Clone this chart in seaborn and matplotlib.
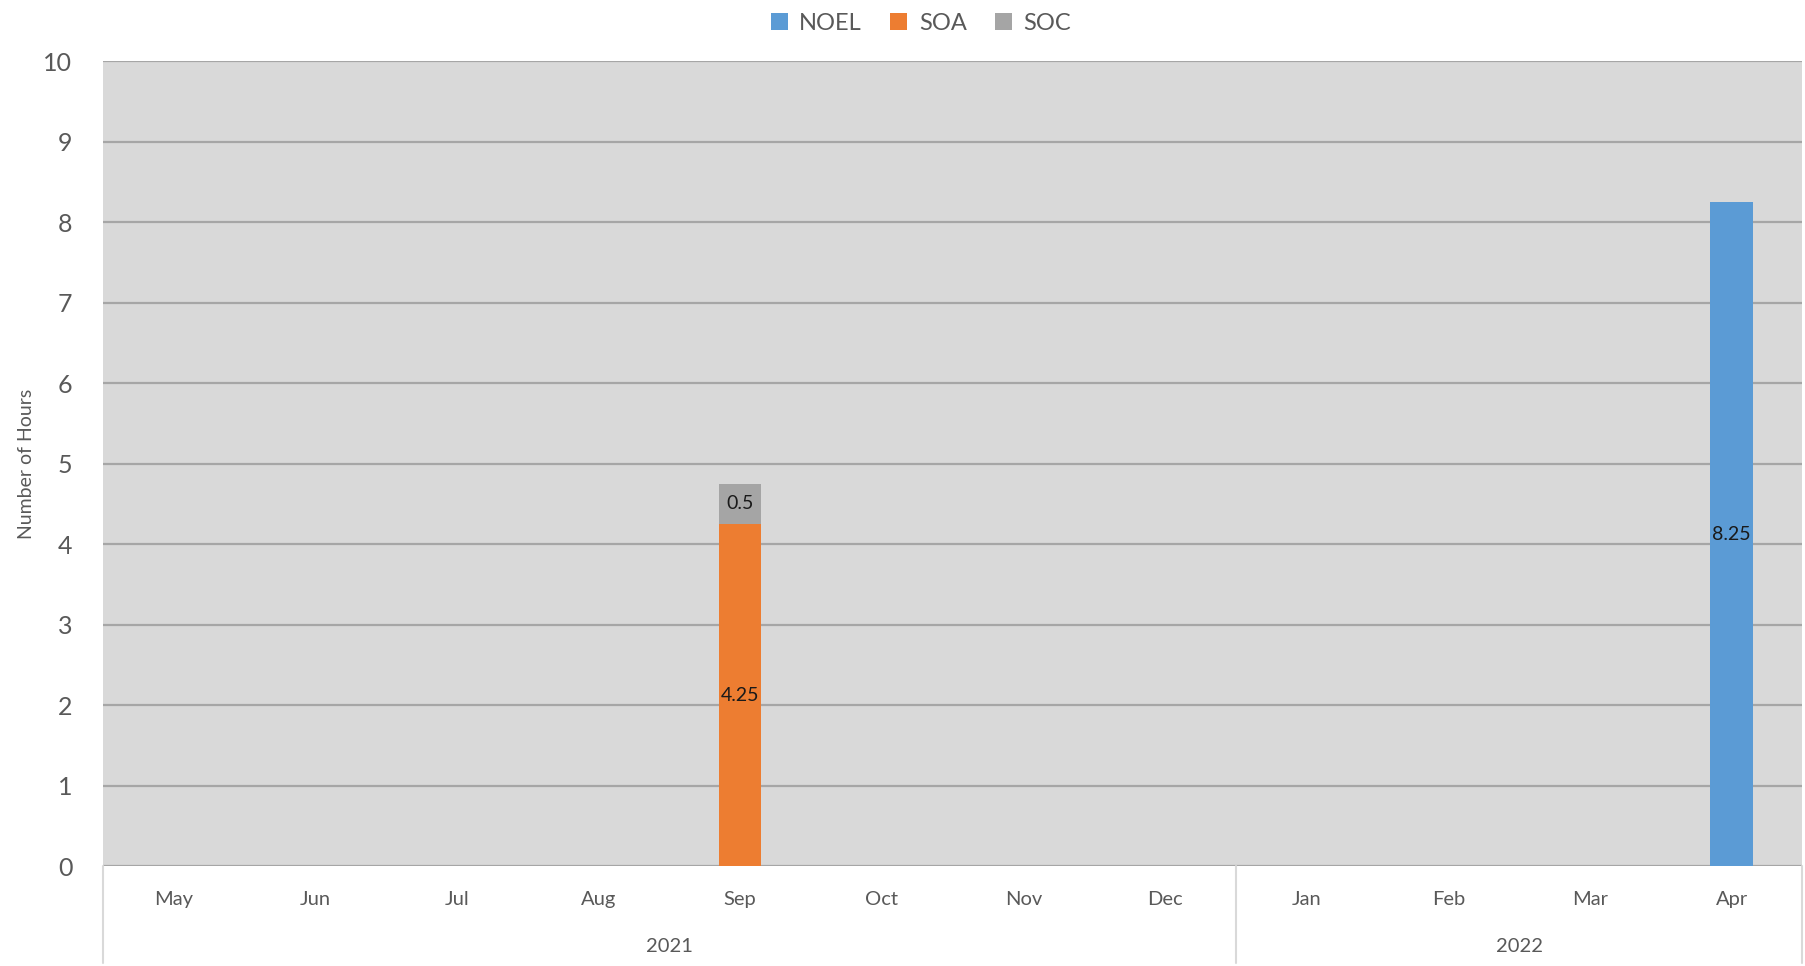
import numpy as np
import pandas as pd
import matplotlib.pyplot as plt
import seaborn as sns

months = ['May', 'Jun', 'Jul', 'Aug', 'Sep', 'Oct', 'Nov', 'Dec', 'Jan', 'Feb', 'Mar', 'Apr']
years = ['2021'] * 8 + ['2022'] * 4
noel = [0, 0, 0, 0, 0, 0, 0, 0, 0, 0, 0, 8.25]
soa = [0, 0, 0, 0, 4.25, 0, 0, 0, 0, 0, 0, 0]
soc = [0, 0, 0, 0, 0.5, 0, 0, 0, 0, 0, 0, 0]

df = pd.DataFrame({'month': months, 'year': years, 'NOEL': noel, 'SOA': soa, 'SOC': soc})
df['NOEL_SOA'] = df['NOEL'] + df['SOA']
df['total'] = df['NOEL_SOA'] + df['SOC']

sns.set_style('white')
plt.rcParams['font.family'] = ['Lato', 'DejaVu Sans']
txt = '#595959'
colors = {'NOEL': '#5B9BD5', 'SOA': '#ED7D31', 'SOC': '#A5A5A5'}

fig = plt.figure(figsize=(18.06, 9.66), dpi=100)
ax = fig.add_axes([0.057, 0.1035, 0.941, 0.833])
ax.set_facecolor('#D9D9D9')

# stacked bars: draw cumulative sums from the top down
sns.barplot(data=df, x='month', y='total', order=months, color=colors['SOC'],
            width=0.3, saturation=1, errorbar=None, ax=ax, label='SOC',
            linewidth=0, zorder=3)
sns.barplot(data=df, x='month', y='NOEL_SOA', order=months, color=colors['SOA'],
            width=0.3, saturation=1, errorbar=None, ax=ax, label='SOA',
            linewidth=0, zorder=3)
sns.barplot(data=df, x='month', y='NOEL', order=months, color=colors['NOEL'],
            width=0.3, saturation=1, errorbar=None, ax=ax, label='NOEL',
            linewidth=0, zorder=3)
handles, labels = ax.get_legend_handles_labels()
if ax.get_legend() is not None:
    ax.get_legend().remove()

# data labels in the middle of each segment
for i, r in df.iterrows():
    base = 0
    for s in ['NOEL', 'SOA', 'SOC']:
        v = r[s]
        if v > 0:
            ax.text(i, base + v / 2, f'{v:g}', ha='center', va='center',
                    fontsize=14, color='#1a1a1a', zorder=5)
        base += v

ax.set_ylim(0, 10)
ax.set_xlim(-0.5, 11.5)
ax.set_yticks(range(0, 11))
ax.yaxis.grid(True, color='#A6A6A6', linewidth=1.6, zorder=0)
ax.set_axisbelow(True)
for sp in ax.spines.values():
    sp.set_visible(False)
ax.tick_params(axis='y', length=0, labelsize=18, labelcolor=txt, pad=22)
ax.tick_params(axis='x', length=0, labelsize=14.5, labelcolor=txt, pad=18)
ax.set_xlabel('')
ax.set_ylabel('Number of Hours', fontsize=14, color=txt, labelpad=6)

# two-level category axis: year groups and separators
trans = ax.get_xaxis_transform()
for x in [-0.5, 7.5, 11.5]:
    ax.plot([x, x], [0, -0.12], transform=trans, color='#D9D9D9', lw=1.5, clip_on=False)
for yr in ['2021', '2022']:
    idx = np.where(df['year'] == yr)[0]
    ax.text((idx.min() + idx.max()) / 2, -0.1, yr, transform=trans, ha='center',
            va='center', fontsize=14.5, color=txt)

order = [labels.index(n) for n in ['NOEL', 'SOA', 'SOC']]
fig.legend([handles[k] for k in order], ['NOEL', 'SOA', 'SOC'], loc='center',
           bbox_to_anchor=(0.51, 0.976), ncol=3, frameon=False, fontsize=17,
           labelcolor=txt, handlelength=0.7, handleheight=0.7, handletextpad=0.5,
           columnspacing=1.2)

fig.savefig('out.png', dpi=100)
